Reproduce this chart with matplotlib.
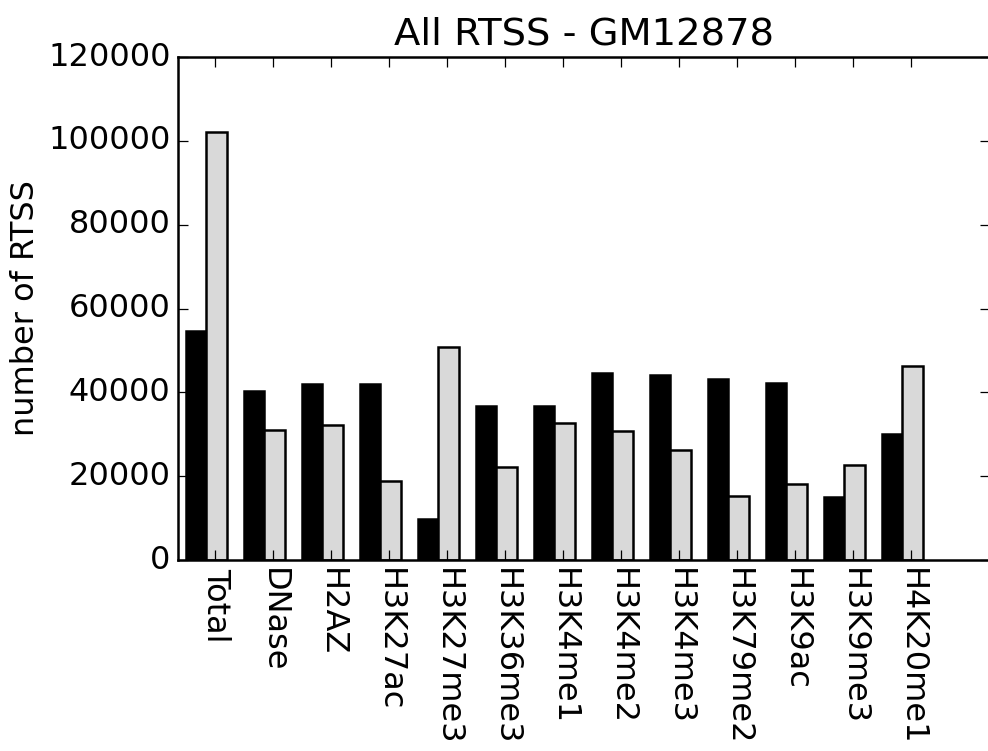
import numpy as np
import matplotlib
matplotlib.use("Agg")
import matplotlib.pyplot as plt

plt.style.use("classic")
plt.rcParams.update({
    "font.family": "DejaVu Sans",
    "font.size": 12.8,
    "axes.titlesize": 15.4,
    "xtick.major.pad": 3,
    "ytick.major.pad": 3,
    "savefig.facecolor": "white",
    "figure.facecolor": "white",
})

categories = ["Total", "DNase", "H2AZ", "H3K27ac", "H3K27me3", "H3K36me3",
              "H3K4me1", "H3K4me2", "H3K4me3", "H3K79me2", "H3K9ac",
              "H3K9me3", "H4K20me1"]
black_vals = [54600, 40400, 42000, 42000, 9900, 36800, 36800,
              44600, 44100, 43300, 42300, 15000, 30100]
gray_vals = [102000, 30900, 32300, 18900, 50800, 22300, 32800,
             30800, 26300, 15300, 18200, 22600, 46200]

ind = np.arange(len(categories))
width = 0.35

fig = plt.figure(figsize=(988 / 180, 751 / 180), dpi=180)
ax = fig.add_axes([0.1802, 0.2543, 0.8219, 0.6698])

ax.bar(ind, black_vals, width, color="k", edgecolor="k", align="edge")
ax.bar(ind + width, gray_vals, width, color="0.85", edgecolor="k", align="edge")

ax.set_xticks(ind + 0.5)
ax.set_xticklabels(categories, rotation=270)
ax.set_xlim(-0.14, 13.86)
ax.set_ylim(0, 120000)
ax.set_yticks(np.arange(0, 120001, 20000))
ax.set_ylabel("number of RTSS", labelpad=3)
ax.set_title("All RTSS - GM12878")

fig.savefig("out.png", dpi=180)
